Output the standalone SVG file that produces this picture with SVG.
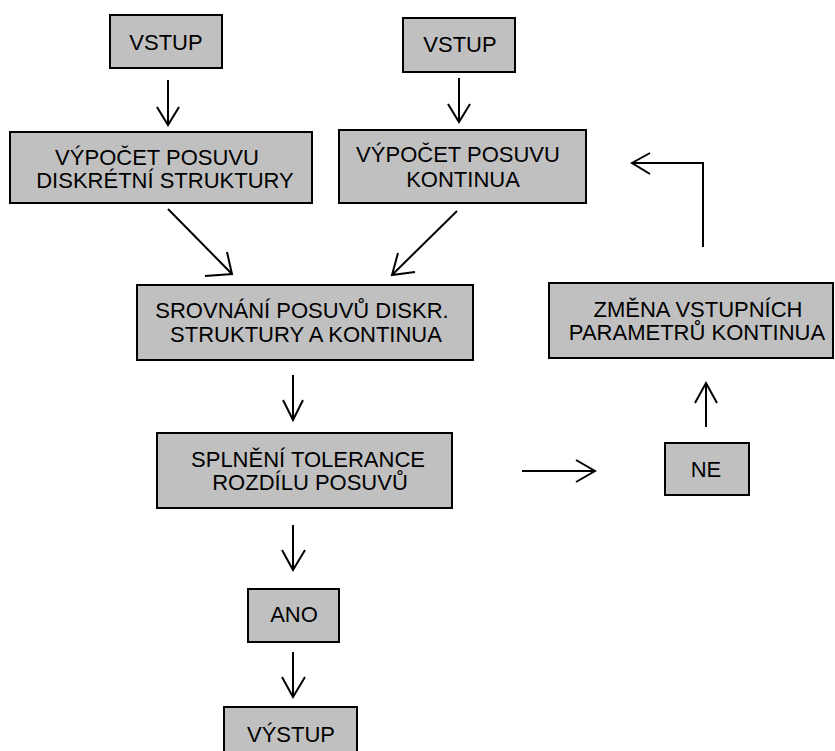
<svg xmlns="http://www.w3.org/2000/svg" width="835" height="751" viewBox="0 0 835 751">
<style>
.box{fill:#c0c0c0;stroke:#000;stroke-width:2}
.t{font-family:"Liberation Sans",Arial,sans-serif;font-size:22px;fill:#000;text-anchor:middle}
.c{fill:none;stroke:#000;stroke-width:2}
</style>
<rect width="835" height="751" fill="#fff"/>
<g id="vstup1"><rect class="box" x="110" y="15" width="112" height="53"/><text class="t" x="166" y="50">VSTUP</text></g>
<g id="vstup2"><rect class="box" x="403" y="18" width="112" height="54"/><text class="t" x="460" y="52">VSTUP</text></g>
<g id="vypocet-diskr"><rect class="box" x="10" y="132" width="302" height="71"/><text class="t" x="157" y="165">VÝPOČET POSUVU</text><text class="t" x="165" y="188">DISKRÉTNÍ STRUKTURY</text></g>
<g id="vypocet-kont"><rect class="box" x="339" y="130" width="247" height="73"/><text class="t" x="458" y="162">VÝPOČET POSUVU</text><text class="t" x="463" y="187">KONTINUA</text></g>
<g id="srovnani"><rect class="box" x="137" y="285" width="336" height="75"/><text class="t" x="302" y="318">SROVNÁNÍ POSUVŮ DISKR.</text><text class="t" x="306" y="342">STRUKTURY A KONTINUA</text></g>
<g id="zmena"><rect class="box" x="549" y="283" width="284" height="75"/><text class="t" x="698" y="317">ZMĚNA VSTUPNÍCH</text><text class="t" x="697" y="340">PARAMETRŮ KONTINUA</text></g>
<g id="splneni"><rect class="box" x="157" y="433" width="295" height="75"/><text class="t" x="308" y="467">SPLNĚNÍ TOLERANCE</text><text class="t" x="310" y="490">ROZDÍLU POSUVŮ</text></g>
<g id="ne"><rect class="box" x="665" y="443" width="84" height="52"/><text class="t" x="706" y="477">NE</text></g>
<g id="ano"><rect class="box" x="248" y="589" width="91" height="53"/><text class="t" x="294" y="622">ANO</text></g>
<g id="vystup"><rect class="box" x="224" y="707" width="133" height="60"/><text class="t" x="291" y="742">VÝSTUP</text></g>
<g id="connectors">
<path class="c" d="M168 80V125M157 107L168 125L179 107"/>
<path class="c" d="M459 78V122M448 104L459 122L470 104"/>
<path class="c" d="M168 209L232 274M227 252L232 274L205 276"/>
<path class="c" d="M457 211L392 275M398 253L392 275L415 272"/>
<path class="c" d="M293 375V420M283 400L293 420L303 400"/>
<path class="c" d="M293 525V570M282 550L293 570L305 550"/>
<path class="c" d="M293 652V697M282 677L293 697L305 677"/>
<path class="c" d="M522 471H595M576 460L595 471L576 482"/>
<path class="c" d="M706 427V383M695 403L706 383L717 403"/>
<path class="c" d="M703 247V163H632M650 153L632 163L650 174"/>
</g>
</svg>
